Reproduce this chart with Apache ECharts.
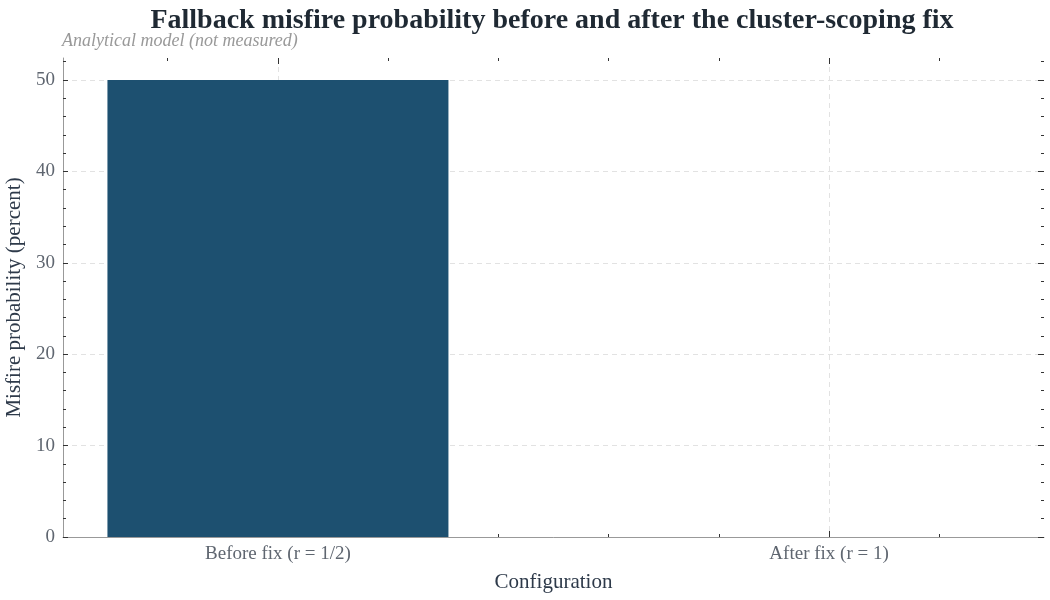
<!DOCTYPE html>
<html><head><meta charset="utf-8">
<script src="https://cdn.jsdelivr.net/npm/echarts@6/dist/echarts.min.js"></script>
<style>html,body{margin:0;padding:0;background:#fff;overflow:hidden}#c{width:1050px;height:600px}</style>
</head><body><div id="c"></div>
<script>
const categories = ['Before fix (r = 1/2)', 'After fix (r = 1)'];
const misfirePercent = [50, 0];
const yMajorTicks = [0, 10, 20, 30, 40, 50];
const yMinorTicks = [2, 4, 6, 8, 12, 14, 16, 18, 22, 24, 26, 28, 32, 34, 36, 38, 42, 44, 46, 48, 52];
const xMajorTicks = [0, 1];
const xMinorTicks = [-0.2, 0.2, 0.4, 0.6, 0.8, 1.2];

const FONT = '"Liberation Serif", "DejaVu Serif", serif';
const X_MIN = -0.39, X_MAX = 1.39, Y_MIN = 0, Y_MAX = 52.4;
const tickCol = '#333';
const gridCol = '#e2e2e2';

function xAxisDef(pos, ticks, len, opts) {
  return Object.assign({
    type: 'value', position: pos, min: X_MIN, max: X_MAX,
    axisLine: { show: false, onZero: false },
    axisTick: { show: true, inside: true, length: len, customValues: ticks, lineStyle: { color: tickCol, width: 1 } },
    axisLabel: { show: false },
    splitLine: { show: false }
  }, opts || {});
}
function yAxisDef(pos, ticks, len, opts) {
  return Object.assign({
    type: 'value', position: pos, min: Y_MIN, max: Y_MAX,
    axisLine: { show: false, onZero: false },
    axisTick: { show: true, inside: true, length: len, customValues: ticks, lineStyle: { color: tickCol, width: 1 } },
    axisLabel: { show: false },
    splitLine: { show: false }
  }, opts || {});
}

const chart = echarts.init(document.getElementById('c'), null, { renderer: 'canvas' });
chart.setOption({
  backgroundColor: '#fff',
  animation: false,
  title: [
    { text: 'Fallback misfire probability before and after the cluster-scoping fix',
      left: 552, top: 7, textAlign: 'center', padding: 0,
      textStyle: { fontFamily: FONT, fontSize: 28, fontWeight: 'bold', color: '#1f2933' } },
    { text: 'Analytical model (not measured)', left: 62, top: 32, padding: 0,
      textStyle: { fontFamily: FONT, fontSize: 18, fontStyle: 'italic', fontWeight: 'normal', color: '#999' } }
  ],
  grid: { left: 63, right: 6, top: 58, bottom: 63, containLabel: false, outerBoundsMode: 'none' },
  xAxis: [
    xAxisDef('bottom', xMajorTicks, 6, {
      axisLine: { show: true, onZero: false, lineStyle: { color: '#999', width: 1 } },
      axisLabel: { show: true, customValues: xMajorTicks, margin: 8,
        formatter: v => categories[Math.round(v)] || '',
        fontFamily: FONT, fontSize: 19, color: '#5f6670' },
      splitLine: { show: true, lineStyle: { color: gridCol, type: [5, 4], width: 1 } },
      name: 'Configuration', nameLocation: 'middle', nameGap: 35,
      nameTextStyle: { fontFamily: FONT, fontSize: 21, color: '#2e3a4a' }
    }),
    xAxisDef('bottom', xMinorTicks, 3),
    xAxisDef('top', xMajorTicks, 6),
    xAxisDef('top', xMinorTicks, 3)
  ],
  yAxis: [
    yAxisDef('left', yMajorTicks, 5, {
      axisLine: { show: true, onZero: false, lineStyle: { color: '#999', width: 1 } },
      axisLabel: { show: true, customValues: yMajorTicks, margin: 8,
        fontFamily: FONT, fontSize: 19, color: '#5f6670' },
      splitLine: { show: true, lineStyle: { color: gridCol, type: [5, 4], width: 1 } },
      name: 'Misfire probability (percent)', nameLocation: 'middle', nameGap: 32,
      nameTextStyle: { fontFamily: FONT, fontSize: 21, color: '#2e3a4a' }
    }),
    yAxisDef('left', yMinorTicks, 3),
    yAxisDef('right', yMajorTicks, 6),
    yAxisDef('right', yMinorTicks, 3)
  ],
  series: [{
    type: 'bar',
    xAxisIndex: 0, yAxisIndex: 0,
    data: misfirePercent.map((v, i) => [i, v]),
    barWidth: 341,
    itemStyle: { color: '#1d5070' },
    z: 5
  }]
});
</script>
</body></html>
